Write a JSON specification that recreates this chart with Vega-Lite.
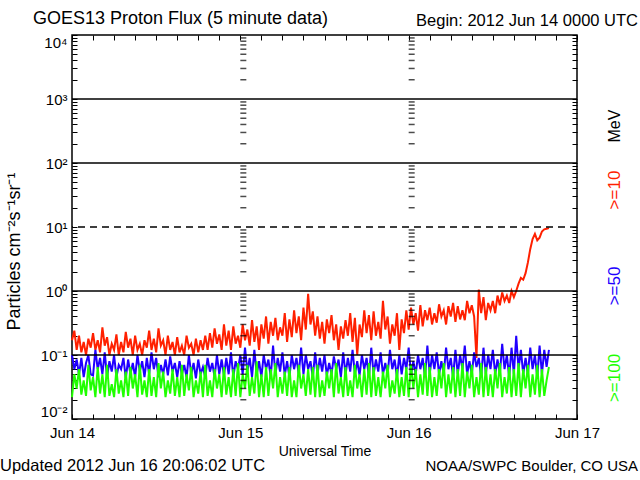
{
  "$schema": "https://vega.github.io/schema/vega-lite/v6.json",
  "width": 505,
  "height": 384,
  "autosize": {"type": "none"},
  "padding": {"left": 72, "top": 35, "right": 63, "bottom": 61},
  "background": "white",
  "config": {
    "font": "Liberation Sans",
    "view": {"stroke": "black", "strokeWidth": 1.5},
    "axis": {"grid": false, "domain": false, "tickColor": "black", "tickWidth": 1, "labelColor": "black", "titleColor": "black", "labelFont": "Liberation Sans", "titleFont": "Liberation Sans", "titleFontWeight": "normal", "labelOverlap": false, "labelBound": false, "labelFlush": false}
  },
  "resolve": {"axis": {"x": "independent", "y": "independent"}},
  "layer": [
    {
      "data": {"values": [
        {"m":0,"a":0.17,"b":0.1,"c":0.022},{"m":20,"a":0.24,"b":0.06,"c":0.05},{"m":40,"a":0.12,"b":0.085,"c":0.03},
        {"m":60,"a":0.2,"b":0.05,"c":0.06},{"m":80,"a":0.11,"b":0.09,"c":0.024},{"m":100,"a":0.16,"b":0.045,"c":0.04},
        {"m":120,"a":0.1,"b":0.075,"c":0.023},{"m":140,"a":0.18,"b":0.1,"c":0.07},{"m":160,"a":0.13,"b":0.05,"c":0.028},
        {"m":180,"a":0.22,"b":0.048,"c":0.045},{"m":200,"a":0.12,"b":0.12,"c":0.022},{"m":220,"a":0.17,"b":0.06,"c":0.065},
        {"m":240,"a":0.11,"b":0.09,"c":0.025},{"m":260,"a":0.27,"b":0.05,"c":0.05},{"m":280,"a":0.14,"b":0.11,"c":0.022},
        {"m":300,"a":0.19,"b":0.045,"c":0.07},{"m":320,"a":0.1,"b":0.08,"c":0.023},{"m":340,"a":0.15,"b":0.055,"c":0.035},
        {"m":360,"a":0.12,"b":0.1,"c":0.022},{"m":380,"a":0.21,"b":0.045,"c":0.06},{"m":400,"a":0.1,"b":0.07,"c":0.025},
        {"m":420,"a":0.16,"b":0.06,"c":0.04},{"m":440,"a":0.11,"b":0.09,"c":0.022},{"m":460,"a":0.23,"b":0.043,"c":0.055},
        {"m":480,"a":0.13,"b":0.085,"c":0.023},{"m":500,"a":0.18,"b":0.05,"c":0.065},{"m":520,"a":0.1,"b":0.075,"c":0.03},
        {"m":540,"a":0.2,"b":0.045,"c":0.05},{"m":560,"a":0.12,"b":0.1,"c":0.022},{"m":580,"a":0.15,"b":0.055,"c":0.07},
        {"m":600,"a":0.1,"b":0.08,"c":0.024},{"m":620,"a":0.17,"b":0.045,"c":0.04},{"m":640,"a":0.13,"b":0.09,"c":0.022},
        {"m":660,"a":0.24,"b":0.05,"c":0.06},{"m":680,"a":0.12,"b":0.11,"c":0.023},{"m":700,"a":0.18,"b":0.06,"c":0.045},
        {"m":720,"a":0.11,"b":0.09,"c":0.022},{"m":740,"a":0.26,"b":0.045,"c":0.075},{"m":760,"a":0.14,"b":0.07,"c":0.03},
        {"m":780,"a":0.17,"b":0.05,"c":0.055},{"m":800,"a":0.1,"b":0.085,"c":0.022},{"m":820,"a":0.2,"b":0.048,"c":0.04},
        {"m":840,"a":0.12,"b":0.095,"c":0.025},{"m":860,"a":0.16,"b":0.055,"c":0.06},{"m":880,"a":0.1,"b":0.075,"c":0.023},
        {"m":900,"a":0.19,"b":0.045,"c":0.045},{"m":920,"a":0.11,"b":0.08,"c":0.022},{"m":940,"a":0.14,"b":0.05,"c":0.07},
        {"m":960,"a":0.1,"b":0.07,"c":0.023},{"m":980,"a":0.2,"b":0.045,"c":0.05},{"m":1000,"a":0.13,"b":0.1,"c":0.028},
        {"m":1020,"a":0.15,"b":0.05,"c":0.065},{"m":1040,"a":0.1,"b":0.075,"c":0.022},{"m":1060,"a":0.18,"b":0.043,"c":0.04},
        {"m":1080,"a":0.11,"b":0.085,"c":0.025},{"m":1100,"a":0.17,"b":0.05,"c":0.055},{"m":1120,"a":0.12,"b":0.065,"c":0.022},
        {"m":1140,"a":0.2,"b":0.045,"c":0.07},{"m":1160,"a":0.12,"b":0.09,"c":0.023},{"m":1180,"a":0.22,"b":0.055,"c":0.04},
        {"m":1200,"a":0.13,"b":0.075,"c":0.022},{"m":1220,"a":0.26,"b":0.045,"c":0.06},{"m":1240,"a":0.15,"b":0.1,"c":0.03},
        {"m":1260,"a":0.21,"b":0.05,"c":0.05},{"m":1280,"a":0.12,"b":0.085,"c":0.022},{"m":1300,"a":0.3,"b":0.048,"c":0.065},
        {"m":1320,"a":0.14,"b":0.09,"c":0.024},{"m":1340,"a":0.24,"b":0.05,"c":0.045},{"m":1360,"a":0.12,"b":0.11,"c":0.022},
        {"m":1380,"a":0.28,"b":0.045,"c":0.06},{"m":1400,"a":0.15,"b":0.08,"c":0.023},{"m":1420,"a":0.2,"b":0.06,"c":0.075},
        {"m":1440,"a":0.13,"b":0.1,"c":0.022},{"m":1460,"a":0.3,"b":0.05,"c":0.05},{"m":1480,"a":0.17,"b":0.13,"c":0.03},
        {"m":1500,"a":0.25,"b":0.055,"c":0.07},{"m":1520,"a":0.14,"b":0.09,"c":0.023},{"m":1540,"a":0.35,"b":0.045,"c":0.045},
        {"m":1560,"a":0.16,"b":0.12,"c":0.025},{"m":1580,"a":0.28,"b":0.05,"c":0.08},{"m":1600,"a":0.12,"b":0.08,"c":0.022},
        {"m":1620,"a":0.3,"b":0.045,"c":0.05},{"m":1640,"a":0.18,"b":0.1,"c":0.022},{"m":1660,"a":0.4,"b":0.06,"c":0.065},
        {"m":1680,"a":0.15,"b":0.085,"c":0.023},{"m":1700,"a":0.33,"b":0.045,"c":0.06},{"m":1720,"a":0.2,"b":0.14,"c":0.03},
        {"m":1740,"a":0.38,"b":0.05,"c":0.075},{"m":1760,"a":0.17,"b":0.09,"c":0.022},{"m":1780,"a":0.27,"b":0.055,"c":0.045},
        {"m":1800,"a":0.2,"b":0.11,"c":0.025},{"m":1820,"a":0.45,"b":0.048,"c":0.055},{"m":1840,"a":0.16,"b":0.08,"c":0.023},
        {"m":1860,"a":0.36,"b":0.045,"c":0.065},{"m":1880,"a":0.19,"b":0.1,"c":0.022},{"m":1900,"a":0.5,"b":0.06,"c":0.04},
        {"m":1920,"a":0.22,"b":0.09,"c":0.022},{"m":1940,"a":0.4,"b":0.05,"c":0.07},{"m":1960,"a":0.17,"b":0.13,"c":0.03},
        {"m":1980,"a":0.55,"b":0.05,"c":0.05},{"m":2000,"a":0.25,"b":0.1,"c":0.023},{"m":2020,"a":0.9,"b":0.06,"c":0.06},
        {"m":2040,"a":0.3,"b":0.08,"c":0.024},{"m":2060,"a":0.48,"b":0.045,"c":0.065},{"m":2080,"a":0.2,"b":0.11,"c":0.022},
        {"m":2100,"a":0.4,"b":0.05,"c":0.07},{"m":2120,"a":0.18,"b":0.09,"c":0.022},{"m":2140,"a":0.33,"b":0.055,"c":0.04},
        {"m":2160,"a":0.15,"b":0.1,"c":0.023},{"m":2180,"a":0.36,"b":0.048,"c":0.055},{"m":2200,"a":0.22,"b":0.075,"c":0.03},
        {"m":2220,"a":0.42,"b":0.05,"c":0.06},{"m":2240,"a":0.17,"b":0.095,"c":0.022},{"m":2260,"a":0.3,"b":0.06,"c":0.075},
        {"m":2280,"a":0.12,"b":0.085,"c":0.025},{"m":2300,"a":0.28,"b":0.045,"c":0.045},{"m":2320,"a":0.18,"b":0.11,"c":0.022},
        {"m":2340,"a":0.35,"b":0.05,"c":0.065},{"m":2360,"a":0.2,"b":0.09,"c":0.023},{"m":2380,"a":0.45,"b":0.055,"c":0.04},
        {"m":2400,"a":0.16,"b":0.12,"c":0.022},{"m":2420,"a":0.38,"b":0.05,"c":0.07},{"m":2440,"a":0.1,"b":0.08,"c":0.03},
        {"m":2460,"a":0.3,"b":0.048,"c":0.05},{"m":2480,"a":0.19,"b":0.1,"c":0.022},{"m":2500,"a":0.5,"b":0.06,"c":0.06},
        {"m":2520,"a":0.22,"b":0.09,"c":0.024},{"m":2540,"a":0.42,"b":0.045,"c":0.075},{"m":2560,"a":0.17,"b":0.13,"c":0.022},
        {"m":2580,"a":0.48,"b":0.05,"c":0.065},{"m":2600,"a":0.2,"b":0.085,"c":0.023},{"m":2620,"a":0.33,"b":0.055,"c":0.045},
        {"m":2640,"a":0.18,"b":0.11,"c":0.022},{"m":2660,"a":0.7,"b":0.05,"c":0.055},{"m":2680,"a":0.25,"b":0.075,"c":0.03},
        {"m":2700,"a":0.4,"b":0.05,"c":0.07},{"m":2720,"a":0.15,"b":0.12,"c":0.022},{"m":2740,"a":0.3,"b":0.06,"c":0.04},
        {"m":2760,"a":0.2,"b":0.085,"c":0.025},{"m":2780,"a":0.45,"b":0.045,"c":0.06},{"m":2800,"a":0.12,"b":0.1,"c":0.022},
        {"m":2820,"a":0.36,"b":0.05,"c":0.045},{"m":2840,"a":0.22,"b":0.09,"c":0.023},{"m":2860,"a":0.5,"b":0.06,"c":0.065},
        {"m":2880,"a":0.25,"b":0.13,"c":0.022},{"m":2900,"a":0.55,"b":0.05,"c":0.07},{"m":2920,"a":0.3,"b":0.08,"c":0.03},
        {"m":2940,"a":0.45,"b":0.05,"c":0.06},{"m":2960,"a":0.24,"b":0.1,"c":0.022},{"m":2980,"a":0.6,"b":0.06,"c":0.05},
        {"m":3000,"a":0.28,"b":0.09,"c":0.024},{"m":3020,"a":0.5,"b":0.045,"c":0.075},{"m":3040,"a":0.35,"b":0.14,"c":0.023},
        {"m":3060,"a":0.55,"b":0.05,"c":0.065},{"m":3080,"a":0.3,"b":0.1,"c":0.022},{"m":3100,"a":0.45,"b":0.06,"c":0.045},
        {"m":3120,"a":0.32,"b":0.11,"c":0.023},{"m":3140,"a":0.62,"b":0.05,"c":0.06},{"m":3160,"a":0.4,"b":0.08,"c":0.03},
        {"m":3180,"a":0.5,"b":0.05,"c":0.075},{"m":3200,"a":0.3,"b":0.13,"c":0.022},{"m":3220,"a":0.58,"b":0.06,"c":0.05},
        {"m":3240,"a":0.4,"b":0.09,"c":0.025},{"m":3260,"a":0.65,"b":0.045,"c":0.065},{"m":3280,"a":0.33,"b":0.12,"c":0.022},
        {"m":3300,"a":0.58,"b":0.05,"c":0.06},{"m":3320,"a":0.36,"b":0.1,"c":0.023},{"m":3340,"a":0.5,"b":0.06,"c":0.075},
        {"m":3360,"a":0.35,"b":0.14,"c":0.022},{"m":3380,"a":0.7,"b":0.05,"c":0.055},{"m":3400,"a":0.45,"b":0.08,"c":0.03},
        {"m":3420,"a":0.6,"b":0.05,"c":0.07},{"m":3440,"a":0.4,"b":0.11,"c":0.022},{"m":3460,"a":0.09,"b":0.065,"c":0.045},
        {"m":3480,"a":1.05,"b":0.09,"c":0.024},{"m":3500,"a":0.45,"b":0.045,"c":0.075},{"m":3520,"a":0.8,"b":0.13,"c":0.022},
        {"m":3540,"a":0.35,"b":0.05,"c":0.065},{"m":3560,"a":0.65,"b":0.1,"c":0.023},{"m":3580,"a":0.5,"b":0.06,"c":0.05},
        {"m":3600,"a":0.7,"b":0.12,"c":0.022},{"m":3620,"a":0.45,"b":0.05,"c":0.06},{"m":3640,"a":0.85,"b":0.085,"c":0.03},
        {"m":3660,"a":0.6,"b":0.05,"c":0.075},{"m":3680,"a":0.95,"b":0.15,"c":0.022},{"m":3700,"a":0.7,"b":0.06,"c":0.045},
        {"m":3720,"a":0.85,"b":0.1,"c":0.025},{"m":3740,"a":0.65,"b":0.045,"c":0.065},{"m":3760,"a":1.0,"b":0.13,"c":0.022},
        {"m":3780,"a":0.8,"b":0.05,"c":0.06},{"m":3800,"a":1.0,"b":0.2,"c":0.023},{"m":3820,"a":1.3,"b":0.06,"c":0.075},
        {"m":3840,"a":1.6,"b":0.12,"c":0.022},{"m":3860,"a":1.5,"b":0.05,"c":0.06},{"m":3880,"a":1.9,"b":0.09,"c":0.03},
        {"m":3900,"a":2.8,"b":0.05,"c":0.07},{"m":3920,"a":4.5,"b":0.13,"c":0.022},{"m":3940,"a":6.5,"b":0.06,"c":0.05},
        {"m":3960,"a":7.8,"b":0.1,"c":0.024},{"m":3980,"a":6.2,"b":0.045,"c":0.07},{"m":4000,"a":6.8,"b":0.14,"c":0.022},
        {"m":4020,"a":8.5,"b":0.05,"c":0.06},{"m":4040,"a":9.2,"b":0.12,"c":0.023},{"m":4060,"a":9.4,"b":0.065,"c":0.04},
        {"m":4080,"a":9.6,"b":0.12,"c":0.065}
      ]},
      "transform": [{"fold": ["a", "b", "c"], "as": ["s", "v"]}],
      "mark": {"type": "line", "strokeWidth": 2, "interpolate": "linear"},
      "encoding": {
        "x": {"field": "m", "type": "quantitative", "scale": {"domain": [0, 4320], "nice": false, "zero": false},
          "axis": {"orient": "bottom", "values": [0,180,360,540,720,900,1080,1260,1440,1620,1800,1980,2160,2340,2520,2700,2880,3060,3240,3420,3600,3780,3960,4140,4320],
            "tickSize": -5, "labelExpr": "datum.value==0?'Jun 14':datum.value==1440?'Jun 15':datum.value==2880?'Jun 16':datum.value==4320?'Jun 17':''",
            "labelFontSize": 15, "labelPadding": 23, "labelBaseline": "alphabetic", "labelAlign": "center",
            "title": "Universal Time", "titleFontSize": 14, "titleX": 252.5, "titleY": 36, "titleAlign": "center", "titleBaseline": "alphabetic"}},
        "y": {"field": "v", "type": "quantitative", "scale": {"type": "log", "domain": [0.01, 10000], "nice": false},
          "axis": {"orient": "left", "values": [0.01,0.02,0.03,0.04,0.05,0.06,0.07,0.08,0.09,0.1,0.2,0.3,0.4,0.5,0.6,0.7,0.8,0.9,1,2,3,4,5,6,7,8,9,10,20,30,40,50,60,70,80,90,100,200,300,400,500,600,700,800,900,1000,2000,3000,4000,5000,6000,7000,8000,9000,10000],
            "tickSize": -5, "labelExpr": "datum.value==10000?'10⁴':datum.value==1000?'10³':datum.value==100?'10²':datum.value==10?'10¹':datum.value==1?'10⁰':datum.value==0.1?'10⁻¹':datum.value==0.01?'10⁻²':''",
            "labelFontSize": 15, "labelPadding": 10, "labelAlign": "right",
            "labelBaseline": {"condition": [{"test": "datum.value <= 0.011", "value": "bottom"}, {"test": "datum.value >= 9999", "value": "top"}], "value": "middle"},
            "title": "Particles cm⁻²s⁻¹sr⁻¹", "titleFontSize": 18, "titleAngle": 270, "titleX": -58, "titleY": 216, "titleAlign": "center", "titleBaseline": "middle"}},
        "color": {"field": "s", "type": "nominal", "scale": {"domain": ["a", "b", "c"], "range": ["#ff2000", "#2000ff", "#20ff00"]}, "legend": null}
      }
    },
    {
      "data": {"values": [
        {"d": 1440, "v": [0.02,0.03,0.04,0.05,0.06,0.07,0.08,0.09,0.2,0.3,0.4,0.5,0.6,0.7,0.8,0.9,2,3,4,5,6,7,8,9,20,30,40,50,60,70,80,90,200,300,400,500,600,700,800,900,2000,3000,4000,5000,6000,7000,8000,9000]},
        {"d": 2880, "v": [0.02,0.03,0.04,0.05,0.06,0.07,0.08,0.09,0.2,0.3,0.4,0.5,0.6,0.7,0.8,0.9,2,3,4,5,6,7,8,9,20,30,40,50,60,70,80,90,200,300,400,500,600,700,800,900,2000,3000,4000,5000,6000,7000,8000,9000]}
      ]},
      "transform": [{"flatten": ["v"]}],
      "mark": {"type": "tick", "orient": "horizontal", "size": 6, "thickness": 1.5, "xOffset": 3, "color": "black"},
      "encoding": {
        "x": {"field": "d", "type": "quantitative", "scale": {"domain": [0, 4320], "nice": false, "zero": false},
          "axis": {"orient": "top", "values": [0,180,360,540,720,900,1080,1260,1440,1620,1800,1980,2160,2340,2520,2700,2880,3060,3240,3420,3600,3780,3960,4140,4320], "tickSize": -5, "labels": false, "title": null}},
        "y": {"field": "v", "type": "quantitative", "scale": {"type": "log", "domain": [0.01, 10000], "nice": false},
          "axis": {"orient": "right", "values": [0.01,0.02,0.03,0.04,0.05,0.06,0.07,0.08,0.09,0.1,0.2,0.3,0.4,0.5,0.6,0.7,0.8,0.9,1,2,3,4,5,6,7,8,9,10,20,30,40,50,60,70,80,90,100,200,300,400,500,600,700,800,900,1000,2000,3000,4000,5000,6000,7000,8000,9000,10000], "tickSize": -5, "labels": false, "title": null}}
      }
    },
    {
      "data": {"values": [{"g": 1000}, {"g": 100}, {"g": 1}, {"g": 0.1}]},
      "mark": {"type": "rule", "color": "black", "strokeWidth": 1.5},
      "encoding": {"y": {"field": "g", "type": "quantitative", "scale": {"type": "log", "domain": [0.01, 10000], "nice": false}, "axis": null}}
    },
    {
      "data": {"values": [{"g": 10}]},
      "mark": {"type": "rule", "color": "black", "strokeWidth": 1.5, "strokeDash": [7, 5]},
      "encoding": {"y": {"field": "g", "type": "quantitative", "scale": {"type": "log", "domain": [0.01, 10000], "nice": false}, "axis": null}}
    },
    {
      "data": {"values": [{"t": "GOES13 Proton Flux (5 minute data)"}]},
      "mark": {"type": "text", "align": "left", "baseline": "alphabetic", "fontSize": 18, "color": "black"},
      "encoding": {"text": {"field": "t"},
        "x": {"datum": -334, "type": "quantitative", "scale": {"domain": [0, 4320], "nice": false, "zero": false}, "axis": null},
        "y": {"datum": 14859, "type": "quantitative", "scale": {"type": "log", "domain": [0.01, 10000], "nice": false}, "axis": null}}
    },
    {
      "data": {"values": [{"t": "Begin: 2012 Jun 14 0000 UTC"}]},
      "mark": {"type": "text", "align": "right", "baseline": "alphabetic", "fontSize": 16.5, "color": "black"},
      "encoding": {"text": {"field": "t"},
        "x": {"datum": 4842, "type": "quantitative", "scale": {"domain": [0, 4320], "nice": false, "zero": false}, "axis": null},
        "y": {"datum": 13825, "type": "quantitative", "scale": {"type": "log", "domain": [0.01, 10000], "nice": false}, "axis": null}}
    },
    {
      "data": {"values": [{"t": "Updated 2012 Jun 16 20:06:02 UTC"}]},
      "mark": {"type": "text", "align": "left", "baseline": "alphabetic", "fontSize": 16.5, "color": "black"},
      "encoding": {"text": {"field": "t"},
        "x": {"datum": -616, "type": "quantitative", "scale": {"domain": [0, 4320], "nice": false, "zero": false}, "axis": null},
        "y": {"datum": 0.00154, "type": "quantitative", "scale": {"type": "log", "domain": [0.01, 10000], "nice": false}, "axis": null}}
    },
    {
      "data": {"values": [{"t": "NOAA/SWPC Boulder, CO USA"}]},
      "mark": {"type": "text", "align": "right", "baseline": "alphabetic", "fontSize": 15, "color": "black"},
      "encoding": {"text": {"field": "t"},
        "x": {"datum": 4842, "type": "quantitative", "scale": {"domain": [0, 4320], "nice": false, "zero": false}, "axis": null},
        "y": {"datum": 0.00154, "type": "quantitative", "scale": {"type": "log", "domain": [0.01, 10000], "nice": false}, "axis": null}}
    },
    {
      "data": {"values": [{"t": "MeV"}]},
      "mark": {"type": "text", "align": "center", "baseline": "middle", "angle": 270, "fontSize": 16, "color": "black"},
      "encoding": {"text": {"field": "t"},
        "x": {"datum": 4645, "type": "quantitative", "scale": {"domain": [0, 4320], "nice": false, "zero": false}, "axis": null},
        "y": {"datum": 378, "type": "quantitative", "scale": {"type": "log", "domain": [0.01, 10000], "nice": false}, "axis": null}}
    },
    {
      "data": {"values": [{"t": ">=10"}]},
      "mark": {"type": "text", "align": "center", "baseline": "middle", "angle": 270, "fontSize": 17, "color": "#ff2000"},
      "encoding": {"text": {"field": "t"},
        "x": {"datum": 4645, "type": "quantitative", "scale": {"domain": [0, 4320], "nice": false, "zero": false}, "axis": null},
        "y": {"datum": 37.8, "type": "quantitative", "scale": {"type": "log", "domain": [0.01, 10000], "nice": false}, "axis": null}}
    },
    {
      "data": {"values": [{"t": ">=50"}]},
      "mark": {"type": "text", "align": "center", "baseline": "middle", "angle": 270, "fontSize": 17, "color": "#2000ff"},
      "encoding": {"text": {"field": "t"},
        "x": {"datum": 4645, "type": "quantitative", "scale": {"domain": [0, 4320], "nice": false, "zero": false}, "axis": null},
        "y": {"datum": 1.2, "type": "quantitative", "scale": {"type": "log", "domain": [0.01, 10000], "nice": false}, "axis": null}}
    },
    {
      "data": {"values": [{"t": ">=100"}]},
      "mark": {"type": "text", "align": "center", "baseline": "middle", "angle": 270, "fontSize": 17, "color": "#20ff00"},
      "encoding": {"text": {"field": "t"},
        "x": {"datum": 4645, "type": "quantitative", "scale": {"domain": [0, 4320], "nice": false, "zero": false}, "axis": null},
        "y": {"datum": 0.0438, "type": "quantitative", "scale": {"type": "log", "domain": [0.01, 10000], "nice": false}, "axis": null}}
    }
  ]
}
